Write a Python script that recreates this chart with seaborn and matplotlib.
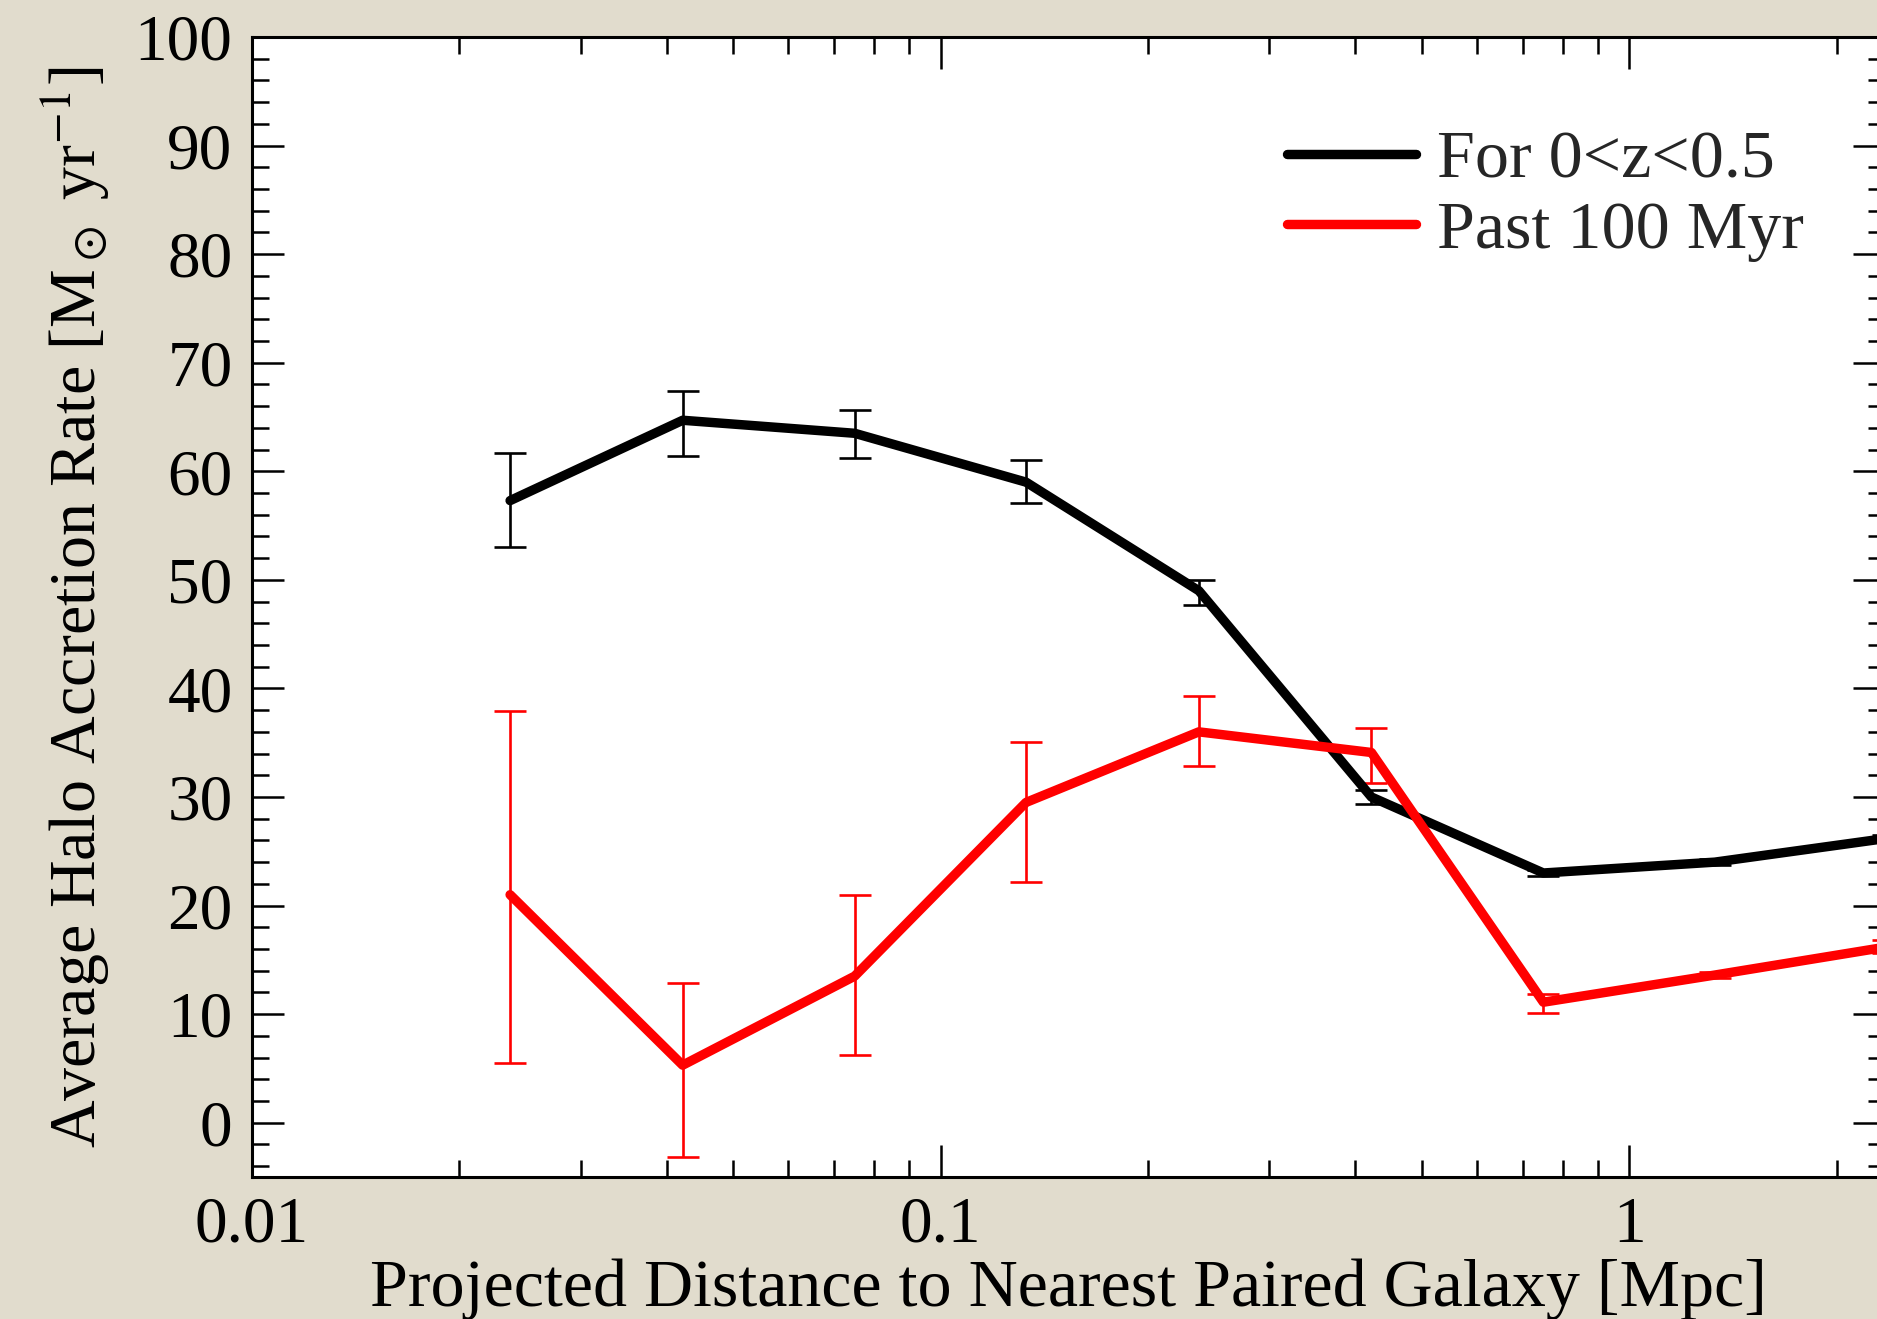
import numpy as np
import pandas as pd
import matplotlib
matplotlib.use("Agg")
import matplotlib.pyplot as plt
import seaborn as sns
from matplotlib.lines import Line2D
from matplotlib.ticker import LogLocator, FixedLocator, MultipleLocator

# Projected pair separation bins [Mpc]
distance = [0.0237, 0.0422, 0.075, 0.133, 0.237, 0.422, 0.75, 1.33, 2.37]

# Mean halo accretion rate for 0<z<0.5 with 1-sigma errors
rate_z = [57.3, 64.7, 63.5, 59.0, 49.0, 30.0, 23.0, 24.0, 26.2]
err_z_hi = [61.7, 67.4, 65.6, 61.0, 50.0, 30.6, 23.3, 24.3, 26.5]
err_z_lo = [53.0, 61.4, 61.2, 57.1, 47.7, 29.4, 22.7, 23.7, 25.9]

# Mean halo accretion rate over the past 100 Myr
rate_100 = [21.0, 5.3, 13.5, 29.5, 36.0, 34.1, 11.1, 13.6, 16.2]
err_100_hi = [37.9, 12.9, 21.0, 35.1, 39.3, 36.4, 11.9, 13.9, 16.8]
err_100_lo = [5.5, -3.2, 6.2, 22.2, 32.9, 31.3, 10.1, 13.3, 15.6]

series_labels = ["For 0<z<0.5", "Past 100 Myr"]
series_colors = ["#000000", "#ff0000"]

x_ticks = [0.01, 0.1, 1]
x_ticklabels = ["0.01", "0.1", "1"]
y_ticks = [0, 10, 20, 30, 40, 50, 60, 70, 80, 90, 100]

sns.set_theme(style="ticks")
plt.rcParams["font.family"] = ["Liberation Serif", "DejaVu Serif"]
plt.rcParams["mathtext.fontset"] = "stix"

W, H, DPI = 1877, 1319, 100
bg = "#e1dccd"
fig = plt.figure(figsize=(W / DPI, H / DPI), dpi=DPI, facecolor=bg)
ax = fig.add_axes([252 / W, 1 - 1177 / H, (1885 - 252) / W, 1140 / H])
ax.set_facecolor("white")

df = pd.DataFrame({
    "distance": distance * 2,
    "rate": rate_z + rate_100,
    "series": [series_labels[0]] * len(distance) + [series_labels[1]] * len(distance),
})

# error bars first, then the thick curves on top
for hi, lo, col in [(err_z_hi, err_z_lo, series_colors[0]),
                    (err_100_hi, err_100_lo, series_colors[1])]:
    mid = [(h + l) / 2 for h, l in zip(hi, lo)]
    half = [(h - l) / 2 for h, l in zip(hi, lo)]
    ax.errorbar(distance, mid, yerr=half, fmt="none", ecolor=col,
                elinewidth=1.9, capsize=11.5, capthick=1.9, zorder=2)

sns.lineplot(data=df, x="distance", y="rate", hue="series",
             palette=dict(zip(series_labels, series_colors)),
             linewidth=6.8, legend=False, ax=ax, zorder=3,
             estimator=None, sort=False)

ax.set_xscale("log")
ax.set_xlim(0.01, 2.35)
ax.set_ylim(-5, 100)

ax.xaxis.set_major_locator(FixedLocator(x_ticks))
ax.set_xticklabels(x_ticklabels)
ax.xaxis.set_minor_locator(LogLocator(base=10, subs=np.arange(2, 10)))
ax.xaxis.set_minor_formatter(plt.NullFormatter())
ax.yaxis.set_major_locator(FixedLocator(y_ticks))
ax.yaxis.set_minor_locator(MultipleLocator(2))

ax.tick_params(which="both", direction="in", top=True, right=True,
               colors="black", width=1.8, labelsize=47, pad=14)
ax.tick_params(which="major", length=23)
ax.tick_params(which="minor", length=12)
for sp in ax.spines.values():
    sp.set_linewidth(2.2)
    sp.set_color("black")

ax.set_xlabel("Projected Distance to Nearest Paired Galaxy [Mpc]",
              fontsize=49, labelpad=2, color="black")
ax.set_ylabel(r"Average Halo Accretion Rate [M$_\odot$ yr$^{-1}$]",
              fontsize=47.5, labelpad=17, color="black")

handles = [Line2D([], [], color=c, linewidth=6.8) for c in series_colors]
ax.legend(handles, series_labels, loc="upper left",
          bbox_to_anchor=(1287 / W, 1 - 130 / H), bbox_transform=fig.transFigure,
          frameon=False, fontsize=49, handlelength=1.9, handletextpad=0.3,
          labelspacing=0.13, borderpad=0, borderaxespad=0)

fig.savefig("out.png", dpi=DPI, facecolor=bg)
